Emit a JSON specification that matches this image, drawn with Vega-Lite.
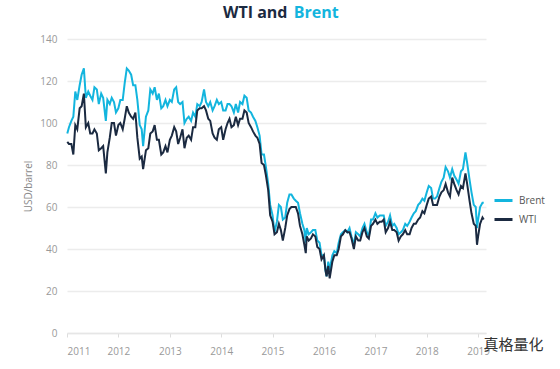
{
  "$schema": "https://vega.github.io/schema/vega-lite/v6.json",
  "width": 419,
  "height": 294,
  "autosize": {"type": "none"},
  "padding": {"left": 67, "top": 39, "right": 74, "bottom": 36},
  "background": "white",
  "config": {
    "view": {"stroke": null},
    "font": "Open Sans"
  },
  "title": {
    "text": "WTI and",
    "subtitle": "\u200b\u00a0\u00a0\u00a0\u00a0\u00a0\u00a0\u00a0\u00a0\u00a0\u00a0\u00a0\u00a0\u00a0\u00a0\u00a0\u00a0\u00a0Brent",
    "anchor": "start",
    "frame": "group",
    "dx": 156,
    "offset": 13,
    "font": "Open Sans",
    "fontSize": 16,
    "fontWeight": "bold",
    "color": "#1b2a41",
    "subtitleFont": "Open Sans",
    "subtitleFontSize": 16,
    "subtitleFontWeight": "bold",
    "subtitleColor": "#13b5de",
    "subtitlePadding": -16
  },
  "datasets": {
    "oil": [
      {"d": "2011-01-03", "Brent": 95, "WTI": 91},
      {"d": "2011-01-15", "Brent": 98, "WTI": 90},
      {"d": "2011-02-01", "Brent": 101, "WTI": 90},
      {"d": "2011-02-15", "Brent": 103, "WTI": 85},
      {"d": "2011-03-01", "Brent": 115, "WTI": 99},
      {"d": "2011-03-15", "Brent": 111, "WTI": 97},
      {"d": "2011-04-01", "Brent": 118, "WTI": 107},
      {"d": "2011-04-15", "Brent": 123, "WTI": 108},
      {"d": "2011-05-01", "Brent": 126, "WTI": 114},
      {"d": "2011-05-15", "Brent": 112, "WTI": 98},
      {"d": "2011-06-01", "Brent": 115, "WTI": 100},
      {"d": "2011-06-15", "Brent": 113, "WTI": 95},
      {"d": "2011-07-01", "Brent": 111, "WTI": 95},
      {"d": "2011-07-15", "Brent": 117, "WTI": 97},
      {"d": "2011-08-01", "Brent": 116, "WTI": 95},
      {"d": "2011-08-15", "Brent": 109, "WTI": 87},
      {"d": "2011-09-01", "Brent": 114, "WTI": 88},
      {"d": "2011-09-15", "Brent": 112, "WTI": 89},
      {"d": "2011-10-04", "Brent": 101, "WTI": 76},
      {"d": "2011-10-15", "Brent": 111, "WTI": 86},
      {"d": "2011-11-01", "Brent": 109, "WTI": 93},
      {"d": "2011-11-15", "Brent": 112, "WTI": 100},
      {"d": "2011-12-01", "Brent": 110, "WTI": 100},
      {"d": "2011-12-15", "Brent": 105, "WTI": 94},
      {"d": "2012-01-01", "Brent": 107, "WTI": 99},
      {"d": "2012-01-15", "Brent": 111, "WTI": 100},
      {"d": "2012-02-01", "Brent": 111, "WTI": 97},
      {"d": "2012-02-15", "Brent": 119, "WTI": 102},
      {"d": "2012-03-01", "Brent": 126, "WTI": 108},
      {"d": "2012-03-15", "Brent": 125, "WTI": 105},
      {"d": "2012-04-01", "Brent": 123, "WTI": 103},
      {"d": "2012-04-15", "Brent": 118, "WTI": 102},
      {"d": "2012-05-01", "Brent": 118, "WTI": 105},
      {"d": "2012-05-15", "Brent": 111, "WTI": 93},
      {"d": "2012-06-01", "Brent": 99, "WTI": 83},
      {"d": "2012-06-15", "Brent": 97, "WTI": 84},
      {"d": "2012-06-25", "Brent": 89, "WTI": 78},
      {"d": "2012-07-15", "Brent": 103, "WTI": 87},
      {"d": "2012-08-01", "Brent": 106, "WTI": 88},
      {"d": "2012-08-15", "Brent": 116, "WTI": 95},
      {"d": "2012-09-01", "Brent": 114, "WTI": 96},
      {"d": "2012-09-15", "Brent": 117, "WTI": 99},
      {"d": "2012-10-01", "Brent": 111, "WTI": 92},
      {"d": "2012-10-15", "Brent": 114, "WTI": 92},
      {"d": "2012-11-01", "Brent": 107, "WTI": 85},
      {"d": "2012-11-15", "Brent": 108, "WTI": 86},
      {"d": "2012-12-01", "Brent": 111, "WTI": 89},
      {"d": "2012-12-15", "Brent": 108, "WTI": 86},
      {"d": "2013-01-01", "Brent": 111, "WTI": 92},
      {"d": "2013-01-15", "Brent": 110, "WTI": 94},
      {"d": "2013-02-01", "Brent": 116, "WTI": 98},
      {"d": "2013-02-15", "Brent": 117, "WTI": 96},
      {"d": "2013-03-01", "Brent": 110, "WTI": 90},
      {"d": "2013-03-15", "Brent": 109, "WTI": 93},
      {"d": "2013-04-01", "Brent": 110, "WTI": 97},
      {"d": "2013-04-15", "Brent": 100, "WTI": 88},
      {"d": "2013-05-01", "Brent": 102, "WTI": 93},
      {"d": "2013-05-15", "Brent": 103, "WTI": 94},
      {"d": "2013-06-01", "Brent": 101, "WTI": 92},
      {"d": "2013-06-15", "Brent": 105, "WTI": 98},
      {"d": "2013-07-01", "Brent": 103, "WTI": 98},
      {"d": "2013-07-15", "Brent": 109, "WTI": 106},
      {"d": "2013-08-01", "Brent": 108, "WTI": 107},
      {"d": "2013-08-15", "Brent": 110, "WTI": 107},
      {"d": "2013-09-01", "Brent": 116, "WTI": 108},
      {"d": "2013-09-15", "Brent": 110, "WTI": 106},
      {"d": "2013-10-01", "Brent": 108, "WTI": 102},
      {"d": "2013-10-15", "Brent": 110, "WTI": 101},
      {"d": "2013-11-01", "Brent": 106, "WTI": 95},
      {"d": "2013-11-15", "Brent": 108, "WTI": 93},
      {"d": "2013-12-01", "Brent": 111, "WTI": 92},
      {"d": "2013-12-15", "Brent": 109, "WTI": 97},
      {"d": "2014-01-01", "Brent": 110, "WTI": 98},
      {"d": "2014-01-15", "Brent": 106, "WTI": 92},
      {"d": "2014-02-01", "Brent": 106, "WTI": 97},
      {"d": "2014-02-15", "Brent": 109, "WTI": 100},
      {"d": "2014-03-01", "Brent": 109, "WTI": 102},
      {"d": "2014-03-15", "Brent": 108, "WTI": 98},
      {"d": "2014-04-01", "Brent": 105, "WTI": 99},
      {"d": "2014-04-15", "Brent": 109, "WTI": 103},
      {"d": "2014-05-01", "Brent": 105, "WTI": 99},
      {"d": "2014-05-15", "Brent": 110, "WTI": 102},
      {"d": "2014-06-01", "Brent": 109, "WTI": 102},
      {"d": "2014-06-15", "Brent": 113, "WTI": 106},
      {"d": "2014-07-01", "Brent": 112, "WTI": 105},
      {"d": "2014-07-15", "Brent": 106, "WTI": 100},
      {"d": "2014-08-01", "Brent": 105, "WTI": 98},
      {"d": "2014-08-15", "Brent": 103, "WTI": 96},
      {"d": "2014-09-01", "Brent": 101, "WTI": 94},
      {"d": "2014-09-15", "Brent": 98, "WTI": 93},
      {"d": "2014-10-01", "Brent": 94, "WTI": 90},
      {"d": "2014-10-15", "Brent": 85, "WTI": 81},
      {"d": "2014-11-01", "Brent": 85, "WTI": 80},
      {"d": "2014-11-15", "Brent": 79, "WTI": 75},
      {"d": "2014-12-01", "Brent": 71, "WTI": 68},
      {"d": "2014-12-15", "Brent": 61, "WTI": 56},
      {"d": "2015-01-01", "Brent": 56, "WTI": 53},
      {"d": "2015-01-15", "Brent": 48, "WTI": 47},
      {"d": "2015-02-01", "Brent": 53, "WTI": 48},
      {"d": "2015-02-15", "Brent": 61, "WTI": 52},
      {"d": "2015-03-01", "Brent": 60, "WTI": 49},
      {"d": "2015-03-15", "Brent": 54, "WTI": 44},
      {"d": "2015-04-01", "Brent": 55, "WTI": 50},
      {"d": "2015-04-15", "Brent": 62, "WTI": 56},
      {"d": "2015-05-01", "Brent": 66, "WTI": 59},
      {"d": "2015-05-15", "Brent": 66, "WTI": 60},
      {"d": "2015-06-01", "Brent": 64, "WTI": 60},
      {"d": "2015-06-15", "Brent": 63, "WTI": 60},
      {"d": "2015-07-01", "Brent": 62, "WTI": 57},
      {"d": "2015-07-15", "Brent": 57, "WTI": 51},
      {"d": "2015-08-01", "Brent": 52, "WTI": 47},
      {"d": "2015-08-15", "Brent": 49, "WTI": 42},
      {"d": "2015-08-25", "Brent": 43, "WTI": 38},
      {"d": "2015-09-01", "Brent": 50, "WTI": 46},
      {"d": "2015-09-15", "Brent": 47, "WTI": 44},
      {"d": "2015-10-01", "Brent": 48, "WTI": 45},
      {"d": "2015-10-15", "Brent": 49, "WTI": 47},
      {"d": "2015-11-01", "Brent": 49, "WTI": 46},
      {"d": "2015-11-15", "Brent": 44, "WTI": 41},
      {"d": "2015-12-01", "Brent": 43, "WTI": 40},
      {"d": "2015-12-15", "Brent": 37, "WTI": 35},
      {"d": "2016-01-01", "Brent": 37, "WTI": 37},
      {"d": "2016-01-12", "Brent": 30, "WTI": 30},
      {"d": "2016-01-20", "Brent": 27, "WTI": 27},
      {"d": "2016-02-01", "Brent": 34, "WTI": 32},
      {"d": "2016-02-11", "Brent": 30, "WTI": 26},
      {"d": "2016-03-01", "Brent": 37, "WTI": 34},
      {"d": "2016-03-15", "Brent": 39, "WTI": 37},
      {"d": "2016-04-01", "Brent": 38, "WTI": 37},
      {"d": "2016-04-15", "Brent": 43, "WTI": 40},
      {"d": "2016-05-01", "Brent": 47, "WTI": 46},
      {"d": "2016-05-15", "Brent": 48, "WTI": 47},
      {"d": "2016-06-01", "Brent": 49, "WTI": 49},
      {"d": "2016-06-15", "Brent": 48, "WTI": 48},
      {"d": "2016-07-01", "Brent": 50, "WTI": 48},
      {"d": "2016-07-15", "Brent": 46, "WTI": 45},
      {"d": "2016-08-01", "Brent": 42, "WTI": 40},
      {"d": "2016-08-15", "Brent": 48, "WTI": 46},
      {"d": "2016-09-01", "Brent": 47, "WTI": 44},
      {"d": "2016-09-15", "Brent": 46, "WTI": 44},
      {"d": "2016-10-01", "Brent": 50, "WTI": 48},
      {"d": "2016-10-15", "Brent": 52, "WTI": 50},
      {"d": "2016-11-01", "Brent": 48, "WTI": 46},
      {"d": "2016-11-15", "Brent": 46, "WTI": 45},
      {"d": "2016-12-01", "Brent": 54, "WTI": 51},
      {"d": "2016-12-15", "Brent": 54, "WTI": 52},
      {"d": "2017-01-01", "Brent": 57, "WTI": 54},
      {"d": "2017-01-15", "Brent": 55, "WTI": 52},
      {"d": "2017-02-01", "Brent": 56, "WTI": 53},
      {"d": "2017-02-15", "Brent": 56, "WTI": 53},
      {"d": "2017-03-01", "Brent": 56, "WTI": 54},
      {"d": "2017-03-15", "Brent": 51, "WTI": 48},
      {"d": "2017-04-01", "Brent": 53, "WTI": 50},
      {"d": "2017-04-15", "Brent": 56, "WTI": 53},
      {"d": "2017-05-01", "Brent": 51, "WTI": 49},
      {"d": "2017-05-15", "Brent": 52, "WTI": 49},
      {"d": "2017-06-01", "Brent": 50, "WTI": 48},
      {"d": "2017-06-15", "Brent": 47, "WTI": 44},
      {"d": "2017-07-01", "Brent": 48, "WTI": 46},
      {"d": "2017-07-15", "Brent": 49, "WTI": 47},
      {"d": "2017-08-01", "Brent": 52, "WTI": 49},
      {"d": "2017-08-15", "Brent": 51, "WTI": 47},
      {"d": "2017-09-01", "Brent": 53, "WTI": 47},
      {"d": "2017-09-15", "Brent": 55, "WTI": 50},
      {"d": "2017-10-01", "Brent": 57, "WTI": 52},
      {"d": "2017-10-15", "Brent": 58, "WTI": 52},
      {"d": "2017-11-01", "Brent": 61, "WTI": 54},
      {"d": "2017-11-15", "Brent": 62, "WTI": 55},
      {"d": "2017-12-01", "Brent": 64, "WTI": 58},
      {"d": "2017-12-15", "Brent": 63, "WTI": 57},
      {"d": "2018-01-01", "Brent": 67, "WTI": 61},
      {"d": "2018-01-15", "Brent": 70, "WTI": 64},
      {"d": "2018-02-01", "Brent": 69, "WTI": 65},
      {"d": "2018-02-15", "Brent": 64, "WTI": 61},
      {"d": "2018-03-01", "Brent": 64, "WTI": 61},
      {"d": "2018-03-15", "Brent": 65, "WTI": 61},
      {"d": "2018-04-01", "Brent": 69, "WTI": 65},
      {"d": "2018-04-15", "Brent": 72, "WTI": 67},
      {"d": "2018-05-01", "Brent": 74, "WTI": 68},
      {"d": "2018-05-15", "Brent": 79, "WTI": 71},
      {"d": "2018-06-01", "Brent": 77, "WTI": 67},
      {"d": "2018-06-15", "Brent": 74, "WTI": 65},
      {"d": "2018-07-01", "Brent": 78, "WTI": 74},
      {"d": "2018-07-15", "Brent": 75, "WTI": 71},
      {"d": "2018-08-01", "Brent": 73, "WTI": 68},
      {"d": "2018-08-15", "Brent": 71, "WTI": 66},
      {"d": "2018-09-01", "Brent": 77, "WTI": 70},
      {"d": "2018-09-15", "Brent": 78, "WTI": 69},
      {"d": "2018-10-03", "Brent": 86, "WTI": 76},
      {"d": "2018-10-15", "Brent": 81, "WTI": 71},
      {"d": "2018-11-01", "Brent": 73, "WTI": 63},
      {"d": "2018-11-15", "Brent": 67, "WTI": 57},
      {"d": "2018-12-01", "Brent": 61, "WTI": 52},
      {"d": "2018-12-15", "Brent": 60, "WTI": 51},
      {"d": "2018-12-24", "Brent": 50, "WTI": 42},
      {"d": "2019-01-01", "Brent": 54, "WTI": 46},
      {"d": "2019-01-15", "Brent": 60, "WTI": 52},
      {"d": "2019-02-01", "Brent": 62, "WTI": 55},
      {"d": "2019-02-10", "Brent": 62, "WTI": 54}
    ],
    "mark": [
      {"d": "2019-09-10", "v": -5.5, "t": "真格量化"}
    ]
  },
  "layer": [
    {
      "data": {"name": "oil"},
      "transform": [{"fold": ["Brent", "WTI"], "as": ["series", "price"]}],
      "mark": {"type": "line", "strokeWidth": 2, "interpolate": "linear"},
      "encoding": {
        "x": {
          "field": "d",
          "type": "temporal",
          "scale": {"domain": ["2011-01-01", "2019-02-26"]},
          "axis": {
            "title": null,
            "format": "%Y",
            "tickCount": {"interval": "year", "step": 1},
            "grid": false,
            "domain": true,
            "domainColor": "#e6e6e6",
            "domainWidth": 1.5,
            "ticks": true,
            "tickColor": "#dddddd",
            "tickSize": 4,
            "labelColor": "#999999",
            "labelFontSize": 10,
            "labelPadding": 9,
            "labelFont": "Open Sans"
          }
        },
        "y": {
          "field": "price",
          "type": "quantitative",
          "scale": {"domain": [0, 140]},
          "axis": {
            "title": "USD/barrel",
            "titleColor": "#888888",
            "titleFontSize": 10,
            "titleFontWeight": "normal",
            "titleFont": "Open Sans",
            "titlePadding": 6,
            "values": [0, 20, 40, 60, 80, 100, 120, 140],
            "domain": false,
            "ticks": false,
            "grid": true,
            "gridColor": "#ececec",
            "gridWidth": 1.5,
            "labelColor": "#999999",
            "labelFontSize": 10,
            "labelPadding": 10,
            "labelFont": "Open Sans"
          }
        },
        "color": {
          "field": "series",
          "type": "nominal",
          "scale": {"domain": ["Brent", "WTI"], "range": ["#13b5de", "#1b2a41"]},
          "legend": {
            "title": null,
            "orient": "none",
            "legendX": 426,
            "legendY": 151,
            "symbolType": "stroke",
            "symbolSize": 324,
            "symbolStrokeWidth": 3,
            "rowPadding": 2,
            "labelFontSize": 10,
            "labelColor": "#555555",
            "labelFont": "Open Sans",
            "labelOffset": 5
          }
        }
      }
    },
    {
      "data": {"name": "mark"},
      "mark": {"type": "text", "font": "Noto Sans CJK SC", "fontSize": 15, "color": "#333333", "align": "center", "baseline": "middle"},
      "encoding": {
        "x": {"field": "d", "type": "temporal"},
        "y": {"field": "v", "type": "quantitative"},
        "text": {"field": "t"}
      }
    }
  ]
}
